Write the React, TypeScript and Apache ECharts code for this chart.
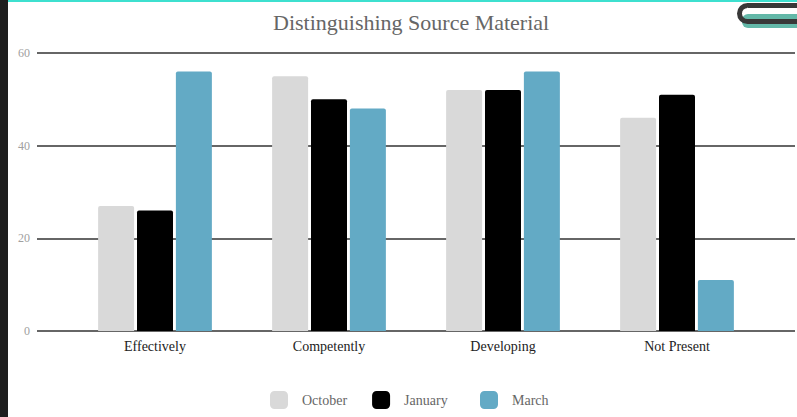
import React, { useEffect, useRef } from "react";
import * as echarts from "echarts";

const categories = ["Effectively", "Competently", "Developing", "Not Present"];
const seriesNames = ["October", "January", "March"];
const october = [27, 55, 52, 46];
const january = [26, 50, 52, 51];
const march = [56, 48, 56, 11];
const seriesColors = ["#d9d9d9", "#000000", "#63aac5"];
const yTicks = { min: 0, max: 60, interval: 20 };

const FONT = "'Liberation Serif', 'DejaVu Serif', serif";

export default function App() {
  const ref = useRef<HTMLDivElement>(null);
  useEffect(() => {
    if (!ref.current) return;
    const chart = echarts.init(ref.current, undefined, { renderer: "svg" });
    const values = [october, january, march];
    const legendBase = {
      top: 386,
      itemWidth: 18,
      itemHeight: 18,
      itemGap: 25,
      icon: "roundRect",
      textStyle: { fontFamily: FONT, fontSize: 14, color: "#666666", padding: [0, 0, 0, 9] },
    };
    chart.setOption({
      animation: false,
      backgroundColor: "#ffffff",
      textStyle: { fontFamily: FONT },
      title: {
        text: "Distinguishing Source Material",
        left: 268,
        top: 6,
        textStyle: { fontFamily: FONT, fontSize: 22, fontWeight: "normal", color: "#666666" },
      },
      legend: [
        { ...legendBase, data: seriesNames.slice(0, 2), left: 265 },
        { ...legendBase, data: seriesNames.slice(2), left: 475 },
      ],
      grid: [
        { left: 37, right: 2, top: 53, bottom: 86 },
        { left: 68, right: 33, top: 53, bottom: 86 },
      ],
      xAxis: [
        { type: "category", gridIndex: 0, data: categories, show: false },
        {
          type: "category",
          gridIndex: 1,
          data: categories,
          axisLine: { show: false },
          axisTick: { show: false },
          axisLabel: { fontFamily: FONT, fontSize: 14, color: "#222222", margin: 8 },
        },
      ],
      yAxis: [
        {
          type: "value",
          gridIndex: 0,
          min: yTicks.min,
          max: yTicks.max,
          interval: yTicks.interval,
          axisLine: { show: false },
          axisTick: { show: false },
          axisLabel: { fontFamily: FONT, fontSize: 12, color: "#a0a0a0", margin: 7 },
          splitLine: { lineStyle: { color: "#333333", width: 1.5 } },
        },
        {
          type: "value",
          gridIndex: 1,
          min: yTicks.min,
          max: yTicks.max,
          interval: yTicks.interval,
          show: false,
          splitLine: { show: false },
        },
      ],
      series: seriesNames.map((name, i) => ({
        name,
        type: "bar",
        xAxisIndex: 1,
        yAxisIndex: 1,
        data: values[i],
        barWidth: 36,
        barGap: "8%",
        itemStyle: { color: seriesColors[i], borderRadius: [2, 2, 0, 0] },
      })),
      graphic: [
        { type: "rect", left: 0, top: 0, shape: { width: 8, height: 417 }, style: { fill: "#1e1e1e" } },
        { type: "rect", left: 8, top: 0, shape: { width: 789, height: 2 }, style: { fill: "#3ee0cf" } },
        {
          type: "rect",
          x: 742,
          y: 14,
          shape: { width: 80, height: 14, r: 6 },
          style: { fill: "#63b8a8" },
        },
        {
          type: "rect",
          x: 739.5,
          y: 5.5,
          shape: { width: 80, height: 16, r: 8 },
          style: { fill: "none", stroke: "#383838", lineWidth: 5 },
        },
      ],
    });
    return () => chart.dispose();
  }, []);
  return (
    <div
      ref={ref}
      style={{ position: "fixed", left: 0, top: 0, width: 797, height: 417 }}
    />
  );
}
